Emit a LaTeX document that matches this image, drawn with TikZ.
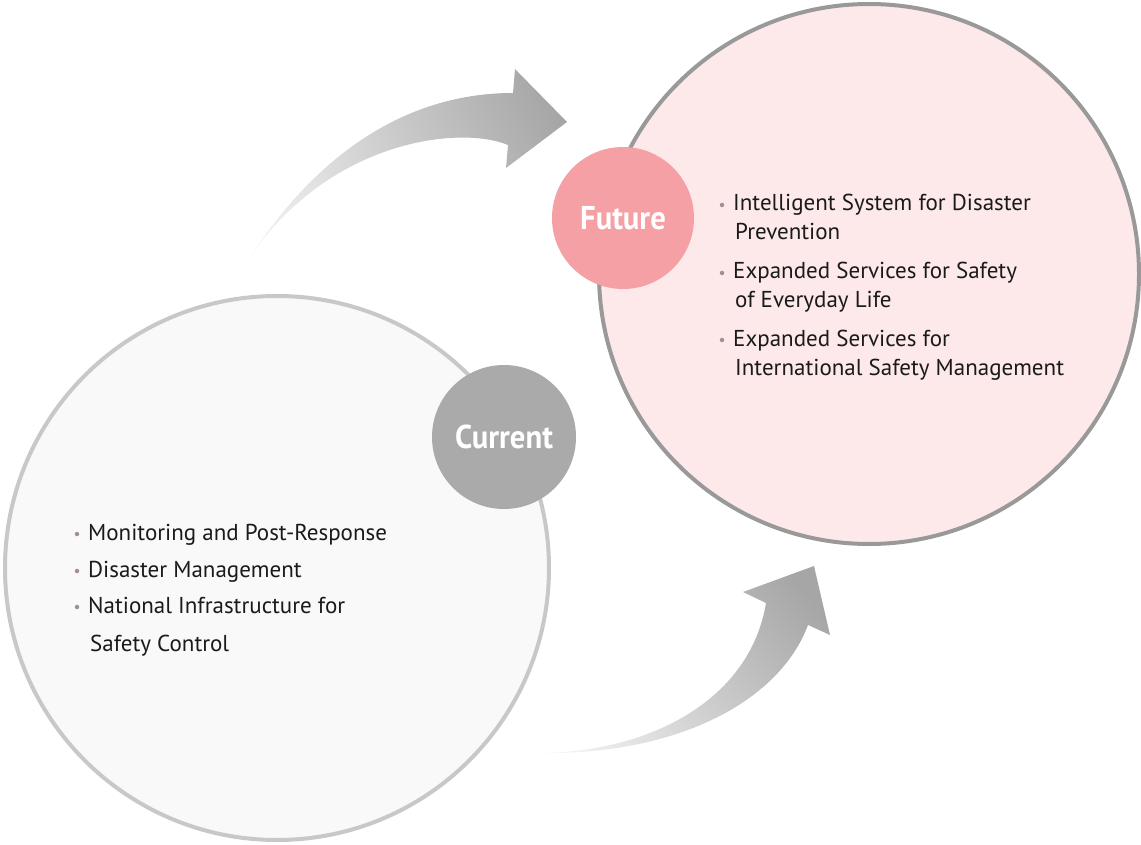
\documentclass[tikz,border=0pt]{standalone}
\usepackage{fontspec}
\setmainfont{PT Sans}
\newfontfamily\headfont{PT Sans}[FakeStretch=0.93]
\definecolor{curfill}{HTML}{F9F9F9}
\definecolor{curline}{HTML}{C8C8C8}
\definecolor{futfill}{HTML}{FDE9E9}
\definecolor{futline}{HTML}{999999}
\definecolor{futbadge}{HTML}{F4A0A4}
\definecolor{curbadge}{HTML}{AAAAAA}
\definecolor{bulcol}{HTML}{A48C9C}
\definecolor{txtcol}{HTML}{1A1A1A}
\definecolor{arrowdark}{HTML}{A6A6A6}
\pgfdeclarehorizontalshading{arrowgrad}{100bp}{color(0bp)=(white); color(10bp)=(white); color(78bp)=(arrowdark); color(100bp)=(arrowdark)}
\begin{document}
\begin{tikzpicture}[x=1pt,y=-1pt,
  bigcirc/.style={circle,inner sep=0pt,minimum size=544pt,line width=4pt},
  badge/.style={circle,inner sep=0pt,minimum size=144pt,text=white,font=\headfont\bfseries\fontsize{33}{33}\selectfont},
  item/.style={anchor=base west,inner sep=0pt,text=txtcol,font=\fontsize{23}{23}\selectfont},
  bul/.style={circle,fill=bulcol,inner sep=0pt,minimum size=4.5pt},
  arrowshade/.style={shading=arrowgrad}
]
\useasboundingbox (0,0) rectangle (1141,845);
% arrows
\coordinate (ta) at (250,257);
\coordinate (tb) at (513,93);
\coordinate (tc) at (508,145);
\coordinate (tv1) at (515,69);
\coordinate (tv2) at (567,122);
\coordinate (tv3) at (506,168);
\shade[arrowshade,shading angle=25] (ta) .. controls (320,150) and (410,93) .. (tb) -- (tv1) -- (tv2) -- (tv3) -- (tc) .. controls (460,125) and (330,140) .. (ta) -- cycle;
\coordinate (ba) at (540,753);
\coordinate (bb) at (766,603);
\coordinate (bc) at (808,625);
\coordinate (bv1) at (743,592);
\coordinate (bv2) at (814,566);
\coordinate (bv3) at (830,635);
\shade[arrowshade,shading angle=40] (ba) .. controls (650,752) and (750,700) .. (bb) -- (bv1) -- (bv2) -- (bv3) -- (bc) .. controls (780,700) and (680,755) .. (ba) -- cycle;
% big circles
\node[bigcirc,draw=curline,fill=curfill] (cur) at (277,568) {};
\node[bigcirc,draw=futline,fill=futfill,minimum size=540pt] (fut) at (869,274) {};
% badges
\node[badge,fill=futbadge,minimum size=142pt] (futb) at (623,218) {Future};
\node[badge,fill=curbadge] (curb) at (504,437) {Current};
% future list
\node[bul] (fb1) at (722,205) {};
\node[item] (f1) at (733,211) {Intelligent System for Disaster};
\node[item] (f1b) at (735,240) {Prevention};
\node[bul] (fb2) at (722,273) {};
\node[item] (f2) at (733,279) {Expanded Services for Safety};
\node[item] (f2b) at (735,308) {of Everyday Life};
\node[bul] (fb3) at (722,340) {};
\node[item] (f3) at (733,346) {Expanded Services for};
\node[item] (f3b) at (735,375) {International Safety Management};
% current list
\node[bul] (cb1) at (77,534) {};
\node[item] (c1) at (88,540) {Monitoring and Post-Response};
\node[bul] (cb2) at (77,571) {};
\node[item] (c2) at (88,577) {Disaster Management};
\node[bul] (cb3) at (77,607) {};
\node[item] (c3) at (88,613) {National Infrastructure for};
\node[item] (c3b) at (90,651) {Safety Control};
\end{tikzpicture}
\end{document}
